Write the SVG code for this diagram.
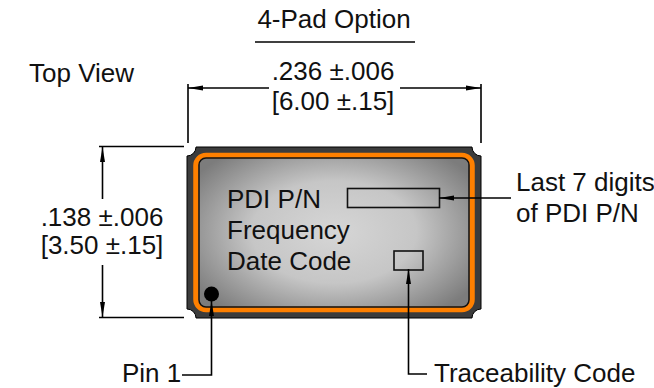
<svg xmlns="http://www.w3.org/2000/svg" width="654" height="388" viewBox="0 0 654 388">
<style>
text{font-family:"Liberation Sans",Arial,sans-serif;font-size:26px;fill:#111}
.m{text-anchor:middle}
.l{fill:none;stroke:#000;stroke-width:1.6}
.h{fill:#000;stroke:none}
</style>
<defs>
<radialGradient id="g" gradientUnits="userSpaceOnUse" cx="334" cy="232" r="165" gradientTransform="translate(334 232) scale(1 .62) translate(-334 -232)">
<stop offset="0" stop-color="#d6d6d6"/><stop offset=".5" stop-color="#c6c6c6"/><stop offset="1" stop-color="#7c7c7c"/>
</radialGradient>
<marker id="a" markerWidth="16" markerHeight="8" refX="15" refY="4" orient="auto-start-reverse" markerUnits="userSpaceOnUse"><path class="h" d="M0 1.500 L15 4 L0 6.500Z"/></marker>
</defs>
<g id="package">
<path d="M196 147H472A9 9 0 0 0 481 156V309A9 9 0 0 0 472 318H196A9 9 0 0 0 187 309V156A9 9 0 0 0 196 147Z" fill="#3c3c3c" stroke="#000" stroke-width="1"/>
<rect x="196" y="155.500" width="276" height="154" rx="10" fill="url(#g)" stroke="#ff8000" stroke-width="5.500"/>
<rect x="199" y="158" width="270" height="149" rx="7" fill="none" stroke="#111" stroke-width="1.500"/>
<circle cx="211.500" cy="294" r="7.500" fill="#000"/>
</g>
<g id="marking">
<text x="227" y="208">PDI P/N</text>
<text x="227" y="239">Frequency</text>
<text x="227" y="270">Date Code</text>
<rect id="pn-box" x="347.500" y="188.500" width="92" height="19" fill="none" stroke="#111" stroke-width="1.600"/>
<rect id="trace-box" x="394" y="251" width="29" height="19" fill="none" stroke="#111" stroke-width="1.600"/>
</g>
<g id="connectors">
<path class="l" d="M255 42H415"/>
<path class="l" d="M188 84V143M481 84V143"/>
<path class="l" marker-end="url(#a)" d="M269 88H188"/>
<path class="l" marker-end="url(#a)" d="M400 88H481"/>
<path class="l" d="M99 146.500H184M99 317.500H184"/>
<path class="l" marker-end="url(#a)" d="M102.500 199V147"/>
<path class="l" marker-end="url(#a)" d="M102.500 265V317"/>
<path class="l" marker-end="url(#a)" d="M511 198H439"/>
<path class="l" marker-end="url(#a)" d="M182 375H211.500V301"/>
<path class="l" marker-end="url(#a)" d="M427 374H408.500V269"/>
</g>
<g id="labels">
<text class="m" x="334" y="28">4-Pad Option</text>
<text x="29" y="82">Top View</text>
<text class="m" x="333" y="80">.236 ±.006</text>
<text class="m" x="333" y="110">[6.00 ±.15]</text>
<text class="m" x="102" y="226">.138 ±.006</text>
<text class="m" x="102" y="254">[3.50 ±.15]</text>
<text x="516" y="191">Last 7 digits</text>
<text x="516" y="222">of PDI P/N</text>
<text x="122" y="382">Pin 1</text>
<text x="434" y="382">Traceability Code</text>
</g>
</svg>
